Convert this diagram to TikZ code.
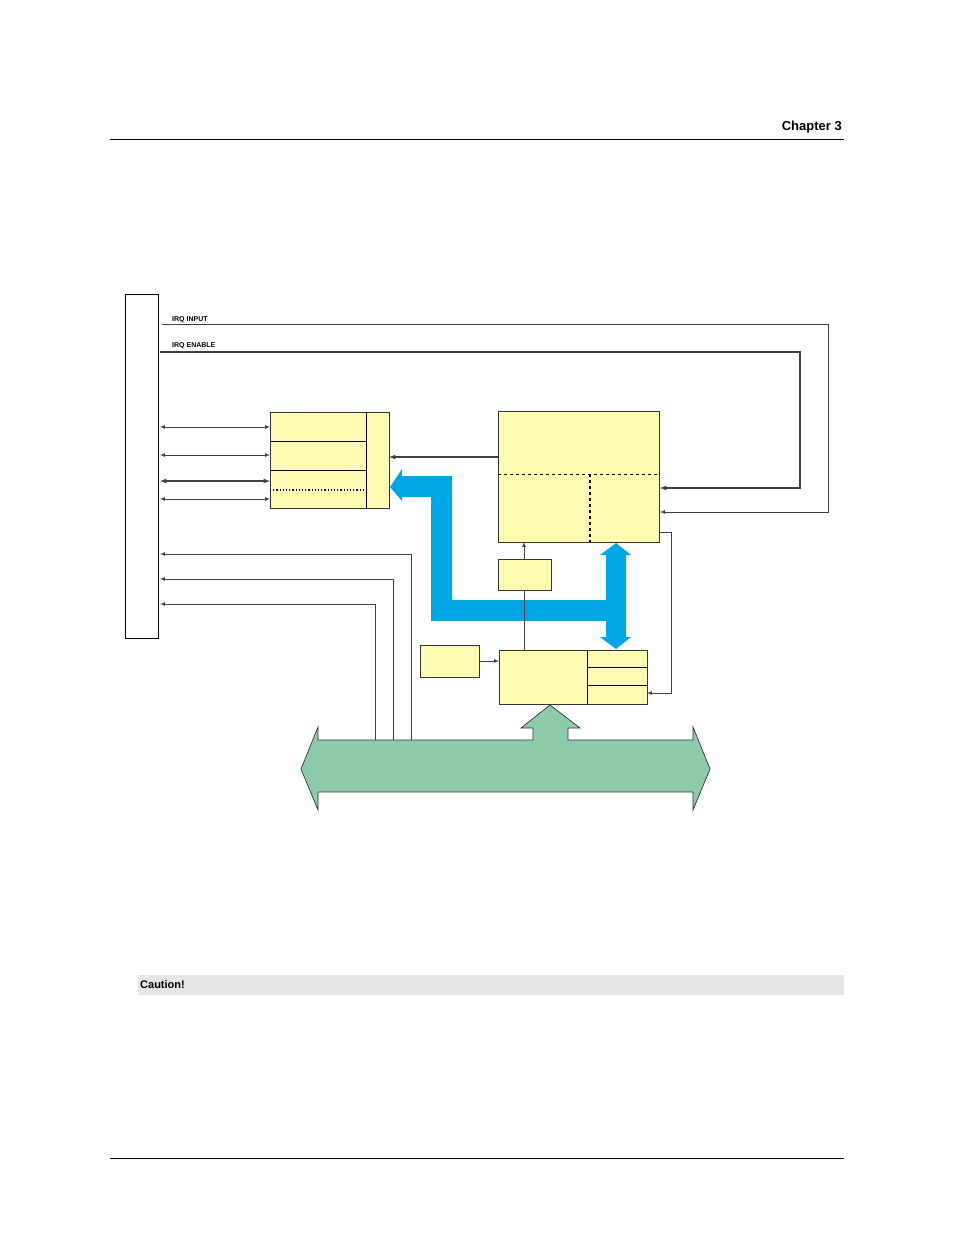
\documentclass[tikz,border=0pt]{standalone}
\usepackage{fontspec}
\setmainfont{Liberation Sans}
\begin{document}
\begin{tikzpicture}[x=1pt,y=-1pt,
  yb/.style={draw=black!80,fill=yellow!30!white,line width=0.8pt},
  ln/.style={draw=black!75,line width=0.7pt},
  arr/.style={ln,-latex},
  darr/.style={ln,latex-latex},
  lbl/.style={font=\bfseries\fontsize{7}{8}\selectfont,anchor=south west,inner sep=0pt}]
\useasboundingbox (0,0) rectangle (954,1235);
\definecolor{cyanb}{RGB}{0,166,228}
\definecolor{greenb}{RGB}{142,203,170}
% header/footer
\node[font=\bfseries\fontsize{13}{15}\selectfont,anchor=south east,inner sep=0pt] (hdr) at (842,133) {Chapter 3};
\draw[line width=0.8pt] (110,139) -- (844,139);
\draw[line width=0.8pt] (110,1158) -- (844,1158);
\fill[black!10] (138,975) rectangle (844,995);
\node[font=\bfseries\fontsize{11}{13}\selectfont,anchor=west,inner sep=0pt] (caut) at (140,985) {Caution!};
% left connector box
\draw[line width=0.8pt] (125,294) rectangle (158,638);
\coordinate (L) at (160,0);
% IRQ lines
\node[lbl] (irqin) at (172,323) {IRQ INPUT};
\node[lbl] (irqen) at (172,349) {IRQ ENABLE};
\draw[arr] (162,324) -- (828,324) -- (828,512) -- (660,512);
\draw[arr,line width=1.2pt] (160,352) -- (800,352) -- (800,488) -- (660,488);
% box A
\draw[yb] (270,412) rectangle (389,508);
\draw[line width=0.7pt] (366,412) -- (366,508) (270,441) -- (366,441) (270,470) -- (366,470);
\draw[line width=1.2pt,dotted] (270,490) -- (366,490);
\draw[darr] (160,427) -- (270,427);
\draw[darr] (160,455) -- (270,455);
\draw[darr,line width=1.2pt] (160,481) -- (270,481);
\draw[darr] (160,499) -- (270,499);
% blue bus
\fill[cyanb] (390,487) -- (402,469) -- (402,476) -- (452,476) -- (452,600) -- (606,600) -- (606,555) -- (600,555) -- (616,543) -- (631,555) -- (626,555)
 -- (626,637) -- (631,637) -- (616,649) -- (600,637) -- (606,637) -- (606,621) -- (431,621) -- (431,497) -- (402,497) -- (402,501) -- cycle;
% box B
\draw[yb] (498,411) rectangle (659,542);
\draw[dashed,line width=0.8pt] (498,474) -- (659,474);
\draw[dashed,line width=1.2pt] (590,474) -- (590,542);
\draw[arr,line width=1.2pt] (498,457) -- (389,457);
% box C
\draw[yb] (498,559) rectangle (551,590);
\draw[arr] (524,559) -- (524,542);
\draw[ln] (524,590) -- (524,650);
% box E
\draw[yb] (420,645) rectangle (479,677);
\draw[arr] (479,661) -- (499,661);
% box D
\draw[yb] (499,650) rectangle (647,704);
\draw[line width=0.7pt] (587,650) -- (587,704) (587,667) -- (647,667) (587,685) -- (647,685);
\draw[arr] (659,532) -- (671,532) -- (671,693) -- (647,693);
% green bus
\draw[fill=greenb,draw=black!80,line width=0.7pt] (301,769) -- (318,727) -- (318,740) -- (533,740) -- (533,728) -- (521,728) -- (550,705) -- (580,728) -- (568,728) -- (568,740)
 -- (693,740) -- (693,727) -- (710,769) -- (693,810) -- (693,792) -- (318,792) -- (318,810) -- cycle;
% lines from bus to connector
\draw[arr] (411,740) -- (411,554) -- (160,554);
\draw[arr] (393,740) -- (393,579) -- (160,579);
\draw[arr] (375,740) -- (375,604) -- (160,604);
\end{tikzpicture}
\end{document}
